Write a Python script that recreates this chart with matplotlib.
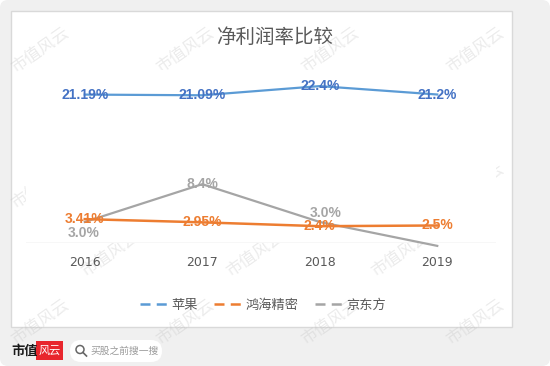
import matplotlib.pyplot as plt
from matplotlib.patches import FancyBboxPatch, Rectangle, Circle
from matplotlib.lines import Line2D

plt.rcParams['font.family'] = ['Noto Sans CJK SC', 'DejaVu Sans']

# data
years = ['2016', '2017', '2018', '2019']
apple = [21.19, 21.09, 22.4, 21.2]
foxconn = [3.41, 2.95, 2.4, 2.5]
boe = [3.0, 8.4, 3.0, -0.41]
apple_labels = ['21.19%', '21.09%', '22.4%', '21.2%']
foxconn_labels = ['3.41%', '2.95%', '2.4%', '2.5%']
boe_labels = ['3.0%', '8.4%', '3.0%', '-0.41%']
series_names = ['苹果', '鸿海精密', '京东方']

W, H = 550, 366
fig = plt.figure(figsize=(W / 100, H / 100), dpi=100, facecolor='white')

# background card + white chart panel (pixel coords)
bg = fig.add_axes([0, 0, 1, 1])
bg.set_xlim(0, W)
bg.set_ylim(H, 0)
bg.axis('off')
bg.add_patch(FancyBboxPatch((0, 0), W, H, boxstyle='round,pad=0,rounding_size=8',
                            fc='#f0f0f0', ec='none'))
bg.add_patch(Rectangle((11, 11), 501, 316, fc='white', ec='#d9d9d9', lw=1))

# footer
bg.text(11, 351, '市值', fontsize=9.5, fontweight='bold', color='#1a1a1a', va='center', ha='left')
bg.add_patch(Rectangle((36, 341), 27, 19, fc='#e8262d', ec='none'))
bg.text(49.5, 350.5, '风云', fontsize=8, color='white', style='italic', va='center', ha='center')
bg.add_patch(FancyBboxPatch((70, 340), 92, 22, boxstyle='round,pad=0,rounding_size=11',
                            fc='white', ec='none'))
bg.add_patch(Circle((80, 349.5), 4, fc='none', ec='#666666', lw=1.1))
bg.plot([83, 86.5], [352.5, 356], color='#666666', lw=1.2)
bg.text(90, 351, '买股之前搜一搜', fontsize=7, color='#999999', va='center', ha='left')

# title
bg.text(275, 37, '净利润率比较', fontsize=14, color='#595959', ha='center', va='center')

# chart axes
ax = fig.add_axes([26 / W, (H - 243) / H, 470 / W, 173 / H])
ax.set_xlim(-0.5, 3.5)
ax.set_ylim(0, 24.7)
for s in ax.spines.values():
    s.set_visible(False)
ax.axhline(0, color='#d9d9d9', lw=1, zorder=1)
ax.set_yticks([])
x = range(len(years))
ax.set_xticks(list(x))
ax.set_xticklabels(years, fontsize=9, color='#595959', fontfamily='DejaVu Sans')
ax.tick_params(axis='x', length=0, pad=9)

colors = ['#5b9bd5', '#ed7d31', '#a5a5a5']
text_colors = ['#4472c4', '#ed7d31', '#a5a5a5']
ax.plot(x, apple, color=colors[0], lw=1.6, clip_on=False, zorder=3)
ax.plot(x, foxconn, color=colors[1], lw=1.8, clip_on=False, zorder=3)
ax.plot(x, boe, color=colors[2], lw=1.6, clip_on=False, zorder=2)

lab_font = dict(fontsize=10, fontweight='bold', fontfamily='Liberation Sans')
for i in x:
    ax.annotate(apple_labels[i], (i, apple[i]), ha='center', va='center',
                color=text_colors[0], zorder=4, **lab_font)
    ax.annotate(foxconn_labels[i], (i, foxconn[i]), ha='center', va='center',
                color=text_colors[1], zorder=4, **lab_font)
boe_offsets = [(-1, -8), (0, 0), (4, 6.5), (6, -3)]
for i in x:
    ax.annotate(boe_labels[i], (i, boe[i]), xytext=boe_offsets[i], textcoords='offset points',
                ha='center', va='center', color=text_colors[2], zorder=4, **lab_font)

# legend
handles = [Line2D([], [], color=c, lw=1.8, ls=(0, (4, 2.5))) for c in colors]
fig.legend(handles, series_names, loc='center', bbox_to_anchor=(263 / W, (H - 305) / H),
           ncol=3, frameon=False, fontsize=9.5, labelcolor='#595959',
           handlelength=2.2, handletextpad=0.2, columnspacing=1.2)

# watermark
for r, yy in enumerate(range(50, 340, 68)):
    shift = 0 if r % 2 == 0 else 70
    for xx in range(40 + shift, 520, 145):
        bg.text(xx, yy, '市值风云', fontsize=12, color='#bfbfbf', alpha=0.3,
                rotation=35, ha='center', va='center', zorder=10)

fig.savefig('out.png', dpi=100, facecolor='white')
